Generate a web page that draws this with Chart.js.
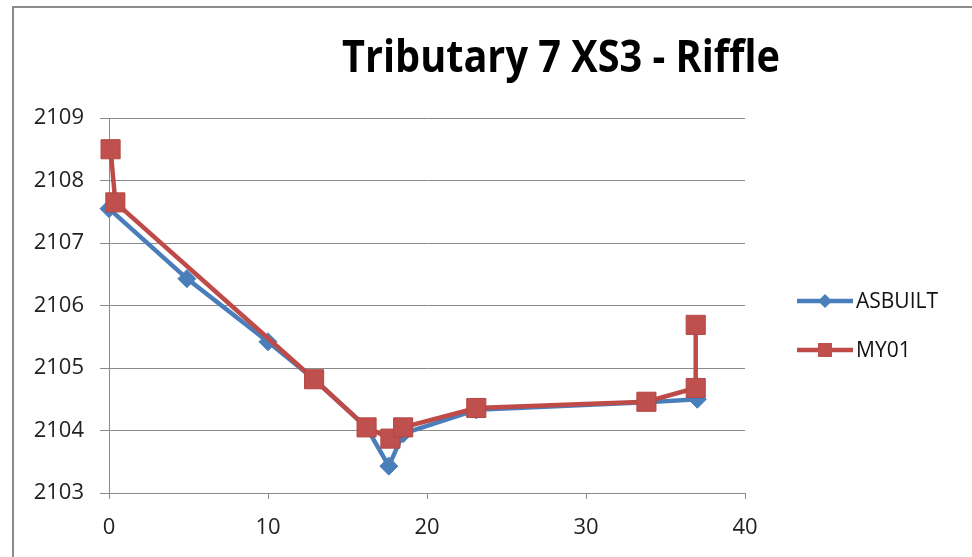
<!DOCTYPE html>
<html>
<head>
<meta charset="utf-8">
<script src="https://cdn.jsdelivr.net/npm/chart.js@4"></script>
<style>
  html, body { margin: 0; padding: 0; background: #fff; }
  #wrap { position: relative; width: 972px; height: 557px; }
</style>
</head>
<body>
<div id="wrap"><canvas id="xsChart" width="972" height="557"></canvas></div>
<script>
const titleText = 'Tributary 7 XS3 - Riffle'

// ASBUILT survey (station, elevation)
const asbuiltX = [0, 4.9, 10, 12.9, 16.2, 17.6, 18.5, 23.1, 33.8, 37]
const asbuiltY = [2107.55, 2106.43, 2105.42, 2104.82, 2104.05, 2103.43, 2103.95, 2104.33, 2104.45, 2104.5]

// MY01 survey
const my01X = [0.1, 0.4, 12.9, 16.2, 17.7, 18.5, 23.1, 33.8, 36.9, 36.9]
const my01Y = [2108.5, 2107.65, 2104.82, 2104.05, 2103.87, 2104.05, 2104.36, 2104.46, 2104.68, 2105.69]

const xMin = 0, xMax = 40, xStep = 10
const yMin = 2103, yMax = 2109, yStep = 1

const blue = '#4A7EBB'
const red = '#BE4B48'
const gridColor = '#8a8a8a'
const tickFont = { family: '"Open Sans", "Liberation Sans", sans-serif', size: 22 }

function toPoints(xs, ys) {
    return xs.map((x, i) => ({ x: x, y: ys[i] }))
}

// frame + title + legend drawn like the excel sheet
const sheetPlugin = {
    id: 'sheet',
    beforeDraw(chart) {
        const ctx = chart.ctx
        ctx.save()
        ctx.fillStyle = '#fff'
        ctx.fillRect(0, 0, chart.width, chart.height)
        ctx.strokeStyle = '#8c8c8c'
        ctx.lineWidth = 2
        ctx.beginPath()
        ctx.moveTo(13, chart.height)
        ctx.lineTo(13, 7)
        ctx.lineTo(chart.width, 7)
        ctx.stroke()
        ctx.restore()
    },
    afterDraw(chart) {
        const ctx = chart.ctx
        ctx.save()
        // title, squeezed a bit to look like Calibri
        ctx.font = 'bold 44px "Open Sans", "Liberation Sans", sans-serif'
        const w = ctx.measureText(titleText).width
        ctx.translate(561, 72)
        ctx.scale(438 / w, 1)
        ctx.textAlign = 'center'
        ctx.textBaseline = 'alphabetic'
        ctx.fillStyle = '#000'
        ctx.fillText(titleText, 0, 0)
        ctx.restore()

        // legend
        const items = chart.data.datasets
        ctx.save()
        items.forEach((ds, i) => {
            const y = 301 + i * 49
            ctx.strokeStyle = ds.borderColor
            ctx.lineWidth = 4.5
            ctx.beginPath()
            ctx.moveTo(797, y)
            ctx.lineTo(853, y)
            ctx.stroke()
            ctx.fillStyle = ds.pointBackgroundColor
            ctx.beginPath()
            if (ds.pointStyle === 'rectRot') {
                ctx.moveTo(825, y - 7)
                ctx.lineTo(832, y)
                ctx.lineTo(825, y + 7)
                ctx.lineTo(818, y)
                ctx.closePath()
            } else {
                ctx.rect(818, y - 7, 14, 14)
            }
            ctx.fill()
            ctx.fillStyle = '#111'
            ctx.font = '21px "Open Sans", "Liberation Sans", sans-serif'
            ctx.textAlign = 'left'
            ctx.textBaseline = 'middle'
            ctx.fillText(ds.label, 856, y + 1)
        })
        ctx.restore()
    }
}

new Chart(document.getElementById('xsChart'), {
    type: 'line',
    data: {
        datasets: [{
            label: 'ASBUILT',
            data: toPoints(asbuiltX, asbuiltY),
            borderColor: blue,
            backgroundColor: blue,
            pointBackgroundColor: blue,
            pointBorderColor: blue,
            pointStyle: 'rectRot',
            pointRadius: 9,
            pointBorderWidth: 1,
            borderWidth: 4.5,
            tension: 0,
            clip: false,
            order: 1
        }, {
            label: 'MY01',
            data: toPoints(my01X, my01Y),
            borderColor: red,
            backgroundColor: red,
            pointBackgroundColor: '#C0504D',
            pointBorderColor: '#B34643',
            pointStyle: 'rect',
            pointRadius: 13.5,
            pointBorderWidth: 1,
            borderWidth: 4.5,
            tension: 0,
            clip: false,
            order: 0
        }]
    },
    options: {
        responsive: false,
        animation: false,
        layout: { padding: { left: 13, top: 118, right: 227, bottom: 0 } },
        plugins: {
            legend: { display: false },
            title: { display: false },
            tooltip: { enabled: false }
        },
        scales: {
            x: {
                type: 'linear',
                min: xMin,
                max: xMax,
                ticks: { stepSize: xStep, padding: 16, color: '#222', font: tickFont },
                grid: { drawOnChartArea: false, tickLength: 6, color: gridColor },
                border: { color: gridColor, width: 1 },
                afterFit: (scale) => { scale.height = 64 }
            },
            y: {
                min: yMin,
                max: yMax,
                ticks: {
                    stepSize: yStep, padding: 16, color: '#222', font: tickFont,
                    callback: (v) => String(v)
                },
                grid: { tickLength: 9, color: gridColor },
                border: { color: gridColor, width: 1 },
                afterFit: (scale) => { scale.width = 96 }
            }
        }
    },
    plugins: [sheetPlugin]
})
</script>
</body>
</html>
